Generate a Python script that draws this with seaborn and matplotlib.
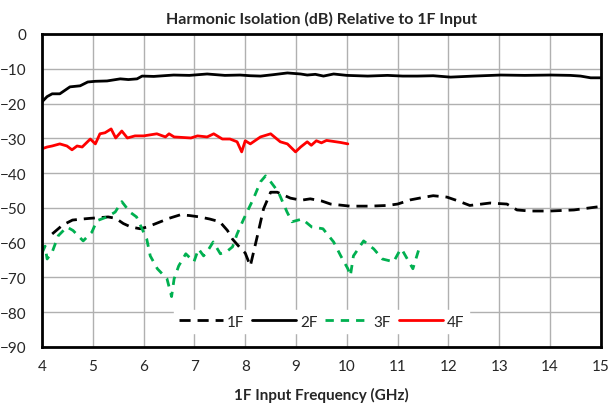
import matplotlib
matplotlib.use("Agg")
import matplotlib.pyplot as plt
import seaborn as sns
import pandas as pd

# ---- data ----
f1_x = [4.2, 4.4, 4.6, 4.8, 4.95, 5.15, 5.3, 5.45, 5.6, 5.75, 5.93, 6.07, 6.33, 6.5, 6.72, 6.9, 7.1, 7.3,
        7.5, 7.65, 7.75, 7.9, 8.0, 8.1, 8.24, 8.36, 8.5, 8.63, 8.89, 9.1, 9.28, 9.5, 9.68, 10.06, 10.46, 10.8,
        11.0, 11.25, 11.5, 11.7, 11.97, 12.17, 12.42, 12.6, 12.82, 13.15, 13.35, 13.6, 14.0, 14.47, 14.94, 15.0]
f1_y = [-57.5, -55, -53.5, -53.2, -53, -52.8, -52.6, -53, -54.5, -55.5, -56, -55.5, -54, -53, -52, -52.2,
        -52.6, -53.2, -54, -56.5, -59, -61.5, -63, -66.7, -58, -50.3, -45.5, -45.5, -47.2, -47.8, -47.4, -48,
        -48.9, -49.5, -49.5, -49.3, -48.9, -47.7, -47, -46.5, -46.9, -47.9, -49.3, -49, -48.6, -48.9, -50.6,
        -50.9, -50.9, -50.6, -49.7, -49.6]

f2_x = [4.0, 4.1, 4.2, 4.35, 4.45, 4.55, 4.75, 4.9, 5.05, 5.28, 5.54, 5.7, 5.87, 5.97, 6.2, 6.59, 6.9,
        7.25, 7.6, 7.9, 8.1, 8.3, 8.55, 8.83, 9.09, 9.22, 9.38, 9.54, 9.74, 10.0, 10.41, 10.8, 11.1, 11.39,
        11.7, 12.04, 12.5, 13.03, 13.5, 14.02, 14.4, 14.6, 14.8, 15.0]
f2_y = [-19.5, -18, -17.2, -17.2, -16.2, -15.2, -14.9, -13.8, -13.6, -13.5, -12.9, -13.1, -12.9, -12.1,
        -12.2, -11.8, -11.9, -11.5, -11.9, -11.8, -12.0, -12.1, -11.7, -11.2, -11.5, -11.8, -11.6, -12.1,
        -11.5, -11.9, -12.1, -11.9, -12.1, -12.1, -12.0, -12.4, -12.1, -11.8, -11.9, -11.8, -11.9, -12.1,
        -12.6, -12.6]

f3_x = [4.0, 4.06, 4.1, 4.2, 4.32, 4.49, 4.61, 4.81, 4.98, 5.08, 5.28, 5.44, 5.57, 5.73, 5.86, 6.06,
        6.13, 6.27, 6.46, 6.55, 6.6, 6.69, 6.83, 6.99, 7.08, 7.18, 7.25, 7.37, 7.51, 7.65, 7.75, 7.84, 7.97,
        8.16, 8.3, 8.4, 8.5, 8.65, 8.82, 8.92, 9.12, 9.31, 9.53, 9.74, 9.88, 10.02, 10.07, 10.13, 10.33,
        10.53, 10.7, 10.92, 11.06, 11.1, 11.3, 11.42]
f3_y = [-63, -61, -64.7, -62.7, -58, -55.5, -56.5, -59.5, -57, -53.7, -52.6, -51.2, -48.2, -51.2, -52.6,
        -58.9, -63.8, -67.5, -70.4, -75.5, -70.4, -66.7, -63.2, -65.5, -61.8, -63.8, -62.6, -59.8, -63.2,
        -62.4, -61.2, -57.5, -53.2, -47.4, -42.5, -40.8, -42.5, -45.4, -51.1, -54, -53.2, -55.5, -56,
        -59.8, -63.8, -67.5, -69.5, -63.8, -59.5, -61.8, -64.7, -65.5, -61.8, -62.4, -67.5, -61.8]

f4_x = [4.0, 4.1, 4.2, 4.35, 4.49, 4.59, 4.69, 4.79, 4.95, 5.05, 5.14, 5.24, 5.36, 5.45, 5.57, 5.68,
        5.83, 6.0, 6.26, 6.43, 6.5, 6.6, 6.93, 7.06, 7.25, 7.38, 7.55, 7.7, 7.84, 7.93, 8.0, 8.1, 8.3,
        8.5, 8.69, 8.83, 8.99, 9.09, 9.22, 9.3, 9.4, 9.5, 9.6, 9.74, 9.88, 10.02]
f4_y = [-33, -32.5, -32.2, -31.6, -32.2, -33.3, -32.2, -32.5, -30.2, -31.6, -28.7, -28.4, -27.3, -29.9,
        -27.9, -29.9, -29.3, -29.3, -28.7, -29.6, -28.7, -29.6, -29.9, -29.3, -29.6, -28.7, -30.2, -30.2,
        -31.0, -33.9, -30.7, -31.6, -29.6, -28.7, -31.0, -31.6, -33.9, -32.5, -31.0, -32.0, -30.7, -31.3,
        -30.6, -30.9, -31.2, -31.6]

title = "Harmonic Isolation (dB) Relative to 1F Input"
xlabel = "1F Input Frequency (GHz)"
x_ticks = list(range(4, 16))
y_ticks = list(range(-90, 1, 10))

sns.set_style("white")
plt.rcParams['font.family'] = ['Lato', 'DejaVu Sans']

fig = plt.figure(figsize=(6.1, 4.06), dpi=100)
ax = fig.add_axes([0.0689, 0.1429, 0.9161, 0.7709])

lw = 2.0
sns.lineplot(x=f1_x, y=f1_y, ax=ax, color="black", lw=lw, label="1F", sort=False)
ax.lines[-1].set_dashes((4, 2.5))
sns.lineplot(x=f2_x, y=f2_y, ax=ax, color="black", lw=lw, label="2F", sort=False)
sns.lineplot(x=f3_x, y=f3_y, ax=ax, color="#00b050", lw=lw, label="3F", sort=False)
ax.lines[-1].set_dashes((3, 2.5))
sns.lineplot(x=f4_x, y=f4_y, ax=ax, color="#ff0000", lw=lw, label="4F", sort=False)

ax.set_xlim(4, 15)
ax.set_ylim(-90, 0)
ax.set_xticks(x_ticks)
ax.set_yticks(y_ticks)
ax.grid(True, color="#b0b0b0", lw=1.0)
ax.set_axisbelow(True)
for s in ax.spines.values():
    s.set_color("black")
    s.set_linewidth(2.0)
ax.tick_params(axis="x", labelsize=11, length=0, pad=9)
ax.tick_params(axis="y", labelsize=11, length=0, pad=11)
ax.set_title(title, fontsize=11.5, fontweight="bold", pad=8)
ax.set_xlabel(xlabel, fontsize=11, fontweight="bold", labelpad=10)
ax.set_ylabel("")

leg = ax.legend(loc="lower center", bbox_to_anchor=(0.5, 0.02), ncol=4, frameon=True,
                fontsize=11, handlelength=2.9, columnspacing=0.5, handletextpad=0.25,
                borderpad=0.3, fancybox=False)
leg.get_frame().set_facecolor("white")
leg.get_frame().set_edgecolor("white")
leg.get_frame().set_alpha(1.0)

fig.savefig("out.png", dpi=100)
